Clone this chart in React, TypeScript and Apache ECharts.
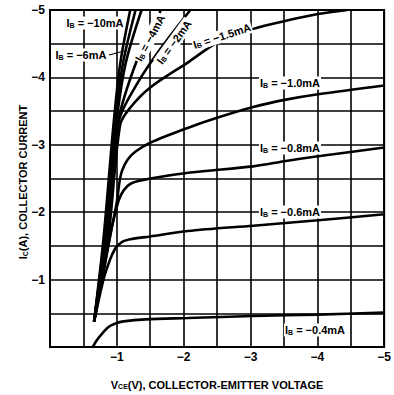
import React, { useEffect, useRef } from 'react';
import * as echarts from 'echarts';

// Base current labels
const ibNames = ['−10mA', '−8mA', '−6mA', '−4mA', '−2mA', '−1.5mA', '−1.0mA', '−0.8mA', '−0.6mA', '−0.4mA'];
const yTitle = 'I{s|C}(A), COLLECTOR CURRENT';
const xTitle = 'V{s|CE}(V), COLLECTOR-EMITTER VOLTAGE';

// Collector-emitter voltage (V) and collector current (A) per curve
const vceIb10 = [-0.66, -0.8, -0.95, -1.05, -1.2];
const icIb10 = [-0.38, -1.6, -3.3, -4.2, -5.0];
const vceIb8 = [-0.66, -0.81, -0.97, -1.09, -1.28];
const icIb8 = [-0.38, -1.6, -3.3, -4.2, -5.0];
const vceIb6 = [-0.66, -0.82, -0.99, -1.13, -1.37];
const icIb6 = [-0.38, -1.6, -3.3, -4.2, -5.0];
const vceIb4 = [-0.66, -0.83, -1.01, -1.3, -1.66];
const icIb4 = [-0.38, -1.6, -3.3, -4.25, -5.0];
const vceIb2 = [-0.66, -0.85, -1.03, -1.3, -1.65, -2.1];
const icIb2 = [-0.38, -1.6, -3.35, -3.9, -4.42, -5.0];
const vceIb15 = [-0.66, -0.87, -1.05, -1.2, -1.5, -2.06, -2.54, -3.04, -3.53, -4.01, -4.45];
const icIb15 = [-0.38, -1.6, -3.3, -3.55, -3.85, -4.22, -4.54, -4.72, -4.84, -4.94, -5.0];
const vceIb10m = [-0.66, -0.8, -0.92, -1.0, -1.04, -1.08, -1.16, -1.28, -1.5, -2.06, -2.5, -3.04, -3.53, -4.01, -5.0];
const icIb10m = [-0.38, -1.15, -1.75, -2.15, -2.45, -2.62, -2.78, -2.9, -3.03, -3.25, -3.4, -3.56, -3.67, -3.75, -3.88];
const vceIb08 = [-0.66, -0.8, -0.92, -0.98, -1.03, -1.1, -1.22, -1.5, -2.1, -3.04, -3.53, -4.01, -5.0];
const icIb08 = [-0.38, -1.1, -1.75, -2.0, -2.18, -2.32, -2.43, -2.5, -2.59, -2.68, -2.76, -2.83, -2.96];
const vceIb06 = [-0.66, -0.8, -0.9, -0.97, -1.03, -1.1, -1.2, -1.5, -2.06, -3.04, -4.01, -5.0];
const icIb06 = [-0.38, -1.0, -1.3, -1.45, -1.52, -1.57, -1.6, -1.64, -1.72, -1.8, -1.88, -1.97];
const vceIb04 = [-0.64, -0.7, -0.78, -0.88, -0.98, -1.1, -1.43, -2.06, -3.04, -4.01, -5.0];
const icIb04 = [-0.0, -0.1, -0.2, -0.3, -0.35, -0.38, -0.41, -0.43, -0.46, -0.48, -0.51];

const curves = [
  [vceIb10, icIb10], [vceIb8, icIb8], [vceIb6, icIb6], [vceIb4, icIb4], [vceIb2, icIb2],
  [vceIb15, icIb15], [vceIb10m, icIb10m], [vceIb08, icIb08], [vceIb06, icIb06], [vceIb04, icIb04],
];

const FONT = 'Liberation Sans';

const tickFmt = (v: number) => {
  const r = Math.round(v);
  return Math.abs(v - r) < 1e-9 && r !== 0 ? '−' + Math.abs(r) : '';
};

const subRich = {
  s: { fontSize: 7, fontWeight: 'bold', fontFamily: FONT, color: '#000', padding: [4, 0, 0, 0] },
  b: { fontSize: 7, fontWeight: 'bold', fontFamily: FONT, color: '#000', padding: [4, 0, 0, 0] },
};

function label(text: string, x: number, y: number, rotDeg = 0, bg = true) {
  return {
    type: 'text',
    x,
    y,
    rotation: (rotDeg * Math.PI) / 180,
    z: 100,
    style: {
      text: 'I{b|B} = ' + text,
      rich: subRich,
      fill: '#000',
      fontSize: 11,
      fontWeight: 'bold',
      fontFamily: FONT,
      align: 'center',
      verticalAlign: 'middle',
      backgroundColor: bg ? '#fff' : undefined,
      padding: bg ? [1, 1, 1, 1] : 0,
    },
  };
}

export default function App() {
  const ref = useRef<HTMLDivElement>(null);
  useEffect(() => {
    if (!ref.current) return;
    const chart = echarts.init(ref.current, null, { renderer: 'svg' });
    chart.setOption({
      animation: false,
      backgroundColor: '#fff',
      grid: { left: 50, right: 4, top: 10, bottom: 44, show: true, borderColor: '#000', borderWidth: 2 },
      xAxis: {
        type: 'value',
        min: -5,
        max: 0,
        interval: 0.5,
        inverse: true,
        axisLine: { show: true, lineStyle: { color: '#000', width: 2 } },
        axisTick: { show: false },
        splitLine: { show: true, lineStyle: { color: '#000', width: 1.6 } },
        axisLabel: { formatter: tickFmt, color: '#000', fontFamily: FONT, fontWeight: 'bold', fontSize: 12, margin: 4 },
        name: xTitle,
        nameLocation: 'middle',
        nameGap: 32,
        nameMoveOverlap: false,
        nameTextStyle: { color: '#000', fontFamily: FONT, fontWeight: 'bold', fontSize: 11, rich: subRich },
      },
      yAxis: {
        type: 'value',
        min: -5,
        max: 0,
        interval: 0.5,
        inverse: true,
        axisLine: { show: true, lineStyle: { color: '#000', width: 2 } },
        axisTick: { show: false },
        splitLine: { show: true, lineStyle: { color: '#000', width: 1.6 } },
        axisLabel: { formatter: tickFmt, color: '#000', fontFamily: FONT, fontWeight: 'bold', fontSize: 12, margin: 5 },
      },
      series: curves.map(([v, i], k) => ({
        name: ibNames[k],
        type: 'line',
        data: v.map((vv, j) => [vv, i[j]]),
        showSymbol: false,
        symbol: 'none',
        smooth: 0.3,
        clip: true,
        lineStyle: { color: '#000', width: 2.6 },
        z: 5,
      })),
      graphic: [
        {
          type: 'text',
          x: 23,
          y: 182,
          rotation: Math.PI / 2,
          style: {
            text: yTitle,
            rich: subRich,
            fill: '#000',
            fontSize: 11,
            fontWeight: 'bold',
            fontFamily: FONT,
            align: 'center',
            verticalAlign: 'middle',
          },
        },
        label(ibNames[0], 95, 23),
        label(ibNames[2], 81, 55),
        { type: 'line', z: 100, shape: { x1: 109, y1: 55, x2: 124, y2: 51 }, style: { stroke: '#000', lineWidth: 1.2 } },
        label(ibNames[3], 150, 38, 62),
        label(ibNames[4], 174, 42, 54),
        label(ibNames[5], 222, 36, 18),
        label(ibNames[6], 290, 83),
        label(ibNames[7], 290, 148),
        label(ibNames[8], 290, 212),
        label(ibNames[9], 315, 330),
      ],
    });
    return () => chart.dispose();
  }, []);
  return <div ref={ref} style={{ position: 'absolute', left: 0, top: 0, width: 394, height: 395 }} />;
}
